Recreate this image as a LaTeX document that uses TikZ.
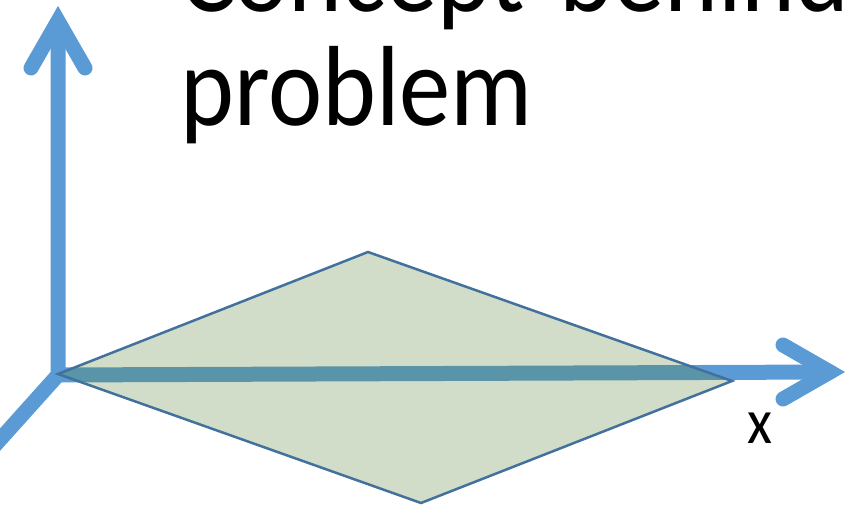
\documentclass[tikz,border=0pt]{standalone}
\usepackage{fontspec}
\setmainfont[FakeStretch=0.9]{Carlito}
\usetikzlibrary{positioning}
\definecolor{axisblue}{HTML}{5B9BD5}
\definecolor{edgeblue}{HTML}{41719C}
\definecolor{planegreen}{HTML}{548235}
\tikzset{
  axis/.style={
    draw=axisblue,
    line width=15pt,
    line join=round
  },
  barb/.style={
    draw=axisblue,
    line width=15pt,
    line cap=round,
    line join=miter
  },
  plane/.style={
    draw=edgeblue,
    line width=2.5pt,
    fill=planegreen,
    fill opacity=0.27,
    draw opacity=1,
    line join=miter
  },
  title/.style={
    inner sep=0pt,
    anchor=base west,
    font=\fontsize{114}{114}\selectfont
  },
  axislabel/.style={
    inner sep=0pt,
    anchor=base,
    font=\fontsize{64}{64}\selectfont
  }
}

\begin{document}
\begin{tikzpicture}[x=1pt,y=-1pt]
  \useasboundingbox (0,0) rectangle (846,505);
  \clip (0,0) rectangle (846,505);

  % axes
  \coordinate (origin) at (58,375);
  \coordinate (ytip) at (58,21);
  \coordinate (ybarbl) at (31,68);
  \coordinate (ybarbr) at (85,68);
  \coordinate (xtip) at (830,372);
  \coordinate (xbarbu) at (783,345);
  \coordinate (xbarbd) at (783,399);
  \coordinate (zend) at (-12,453);

  \draw[axis] (ytip) -- (origin) -- (zend);
  \draw[axis, line cap=round] (origin) -- (xtip);

  % plane
  \coordinate (pleft) at (58,374);
  \coordinate (ptop) at (368,252);
  \coordinate (pright) at (732,381);
  \coordinate (pbottom) at (421,503);
  \path[plane] (pleft) -- (ptop) -- (pright) -- (pbottom) -- cycle;

  % arrow heads
  \draw[barb] (ybarbl) -- (ytip) -- (ybarbr);
  \draw[barb] (xbarbu) -- (xtip) -- (xbarbd);

  % labels
  \node[title] (line1) at (180,12) {Concept\hspace{0.3em}behind};
  \node[title] (line2) at (180,126) {problem};
  \node[axislabel] (xlabel) at (760,443) {x};
\end{tikzpicture}
\end{document}
